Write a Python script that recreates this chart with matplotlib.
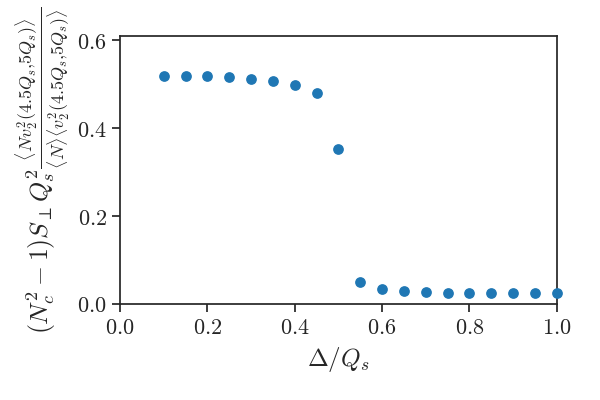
import matplotlib
matplotlib.use("Agg")
import matplotlib.pyplot as plt
from matplotlib.ticker import FuncFormatter
import seaborn as sns

sns.set_style("ticks")
plt.rcParams['mathtext.fontset'] = 'cm'
plt.rcParams['font.family'] = ['serif']
plt.rcParams['font.serif'] = ['DejaVu Serif']

# data
delta = [0.1, 0.15, 0.2, 0.25, 0.3, 0.35, 0.4, 0.45, 0.5, 0.55,
         0.6, 0.65, 0.7, 0.75, 0.8, 0.85, 0.9, 0.95, 1.0]
ratio = [0.520, 0.520, 0.519, 0.516, 0.512, 0.507, 0.498, 0.480, 0.352, 0.051,
         0.035, 0.030, 0.027, 0.026, 0.025, 0.025, 0.025, 0.025, 0.025]

fig = plt.figure(figsize=(6, 4), dpi=100)
ax = fig.add_axes([0.2, 0.24, 0.728, 0.67])
ax.scatter(delta, ratio, s=45, color='#1f77b4', clip_on=False, zorder=3)

ax.set_xlim(0, 1.0)
ax.set_ylim(0, 0.61)
ax.set_xticks([0.0, 0.2, 0.4, 0.6, 0.8, 1.0])
ax.set_yticks([0.0, 0.2, 0.4, 0.6])
fmt = FuncFormatter(lambda v, p: r'$%.1f$' % v)
ax.xaxis.set_major_formatter(fmt)
ax.yaxis.set_major_formatter(fmt)
ax.tick_params(labelsize=16, colors='#262626', width=1.25, length=6)
for s in ax.spines.values():
    s.set_color('#262626')
    s.set_linewidth(1.25)

ax.set_xlabel(r'$\Delta/Q_s$', fontsize=18)
ax.set_ylabel(r'$(N_c^2-1)S_\perp Q_s^2\frac{\langle Nv_2^2(4.5Q_s{,}5Q_s)\rangle}'
              r'{\langle N\rangle\langle v_2^2(4.5Q_s{,}5Q_s)\rangle}$', fontsize=18.5)

fig.savefig('out.png', dpi=100)
